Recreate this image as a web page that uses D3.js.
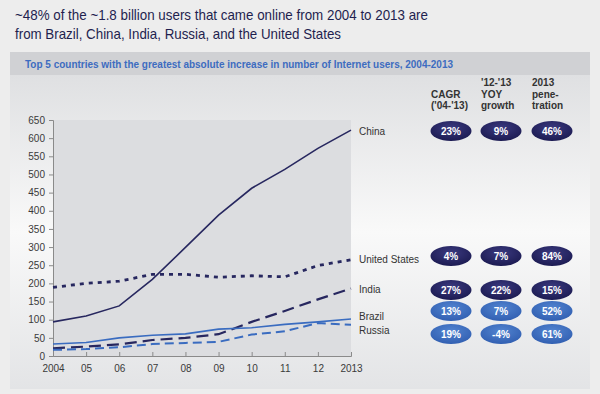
<!DOCTYPE html>
<html>
<head>
<meta charset="utf-8">
<script src="https://cdn.jsdelivr.net/npm/d3@7"></script>
<style>
  body { margin: 0; background: #ededed; }
  svg { display: block; font-family: "Liberation Sans", Arial, sans-serif; }
</style>
</head>
<body>
<svg id="chart"></svg>
<script>
const W = 600, H = 394;

const years = [2004, 2005, 2006, 2007, 2008, 2009, 2010, 2011, 2012, 2013];
const yearLabels = ["2004", "05", "06", "07", "08", "09", "10", "11", "12", "2013"];
const yTicks = d3.range(0, 651, 50);

// users (millions)
const china = [94, 110, 138, 211, 299, 388, 462, 514, 572, 622];
const unitedStates = [189, 200, 206, 225, 225, 217, 221, 218, 249, 265];
const india = [21, 26, 32, 44, 50, 60, 94, 124, 156, 186];
const brazil = [33, 37, 50, 57, 61, 74, 78, 87, 94, 102];
const russia = [17, 19, 24, 33, 36, 39, 59, 68, 91, 86];

const countries = ["China", "United States", "India", "Brazil", "Russia"];
const cagr = ["23%", "4%", "27%", "13%", "19%"];
const yoy = ["9%", "7%", "22%", "7%", "-4%"];
const penetration = ["46%", "84%", "15%", "52%", "61%"];
const columnHeads = [["CAGR", "('04-'13)"], ["'12-'13", "YOY", "growth"], ["2013", "pene-", "tration"]];

const dark = "#27275f", light = "#3a6cc0";
const series = [
  { name: "China", values: china, color: dark, dash: null, width: 1.6, labelY: 131, ovalY: 131 },
  { name: "United States", values: unitedStates, color: dark, dash: "4,5", width: 2.8, labelY: 259, ovalY: 256 },
  { name: "India", values: india, color: dark, dash: "12,6", width: 2.2, labelY: 289, ovalY: 290 },
  { name: "Brazil", values: brazil, color: light, dash: null, width: 1.6, labelY: 316, ovalY: 311 },
  { name: "Russia", values: russia, color: light, dash: "9,5", width: 2, labelY: 330, ovalY: 334 }
];

const svg = d3.select("#chart").attr("width", W).attr("height", H);
const defs = svg.append("defs");

const panelGrad = defs.append("linearGradient").attr("id", "panelGrad")
  .attr("x1", 0).attr("y1", 0).attr("x2", 0).attr("y2", 1);
panelGrad.append("stop").attr("offset", "0%").attr("stop-color", "#dfe0e2");
panelGrad.append("stop").attr("offset", "50%").attr("stop-color", "#f9f9f9");
panelGrad.append("stop").attr("offset", "100%").attr("stop-color", "#e3e4e6");

const darkGrad = defs.append("radialGradient").attr("id", "darkOval")
  .attr("cx", "50%").attr("cy", "35%").attr("r", "60%");
darkGrad.append("stop").attr("offset", "0%").attr("stop-color", "#3b3a80");
darkGrad.append("stop").attr("offset", "100%").attr("stop-color", "#1e1d55");
const lightGrad = defs.append("radialGradient").attr("id", "lightOval")
  .attr("cx", "50%").attr("cy", "35%").attr("r", "60%");
lightGrad.append("stop").attr("offset", "0%").attr("stop-color", "#5284d0");
lightGrad.append("stop").attr("offset", "100%").attr("stop-color", "#3462b4");

// title
const title = svg.append("text").attr("font-size", 14.5).attr("fill", "#1f1f4f");
title.append("tspan").attr("x", 15).attr("y", 20)
  .attr("textLength", 413).attr("lengthAdjust", "spacingAndGlyphs")
  .text("~48% of the ~1.8 billion users that came online from 2004 to 2013 are");
title.append("tspan").attr("x", 15).attr("y", 39)
  .attr("textLength", 326).attr("lengthAdjust", "spacingAndGlyphs")
  .text("from Brazil, China, India, Russia, and the United States");

// panel
svg.append("rect").attr("x", 10).attr("y", 75).attr("width", 580).attr("height", 314)
  .attr("fill", "url(#panelGrad)");
svg.append("rect").attr("x", 10).attr("y", 52).attr("width", 580).attr("height", 23)
  .attr("fill", "#d0d1d4");
svg.append("text").attr("x", 25).attr("y", 68)
  .attr("font-size", 11).attr("font-weight", "bold").attr("fill", "#3d6cc0")
  .attr("textLength", 428).attr("lengthAdjust", "spacingAndGlyphs")
  .text("Top 5 countries with the greatest absolute increase in number of Internet users, 2004-2013");

// plot
const x = d3.scaleLinear().domain([2004, 2013]).range([53, 351]);
const y = d3.scaleLinear().domain([0, 650]).range([356, 120]);

svg.append("rect").attr("x", x(2004)).attr("y", y(650))
  .attr("width", x(2013) - x(2004)).attr("height", y(0) - y(650))
  .attr("fill", "#dcdde0");

const yAxis = svg.append("g").attr("transform", `translate(${x(2004)},0)`)
  .call(d3.axisLeft(y).tickValues(yTicks).tickSize(4).tickPadding(4));
const xAxis = svg.append("g").attr("transform", `translate(0,${y(0)})`)
  .call(d3.axisBottom(x).tickValues(years).tickSize(-4).tickPadding(9)
    .tickFormat((d, i) => yearLabels[i]));
[yAxis, xAxis].forEach(a => {
  a.select(".domain").attr("stroke", "#8a8a8a");
  a.selectAll(".tick line").attr("stroke", "#8a8a8a");
  a.selectAll("text").attr("fill", "#3a3a3a").attr("font-size", 10)
    .attr("font-family", "Liberation Sans, Arial, sans-serif");
});

const line = d3.line().x((d, i) => x(years[i])).y(d => y(d));

svg.selectAll(".series")
  .data(series)
  .join("path")
  .attr("class", "series")
  .attr("fill", "none")
  .attr("stroke", d => d.color)
  .attr("stroke-width", d => d.width)
  .attr("stroke-dasharray", d => d.dash)
  .attr("d", d => line(d.values));

// labels
svg.selectAll(".clabel")
  .data(series)
  .join("text")
  .attr("class", "clabel")
  .attr("x", 359).attr("y", d => d.labelY + 4)
  .attr("font-size", 10).attr("fill", "#333")
  .text(d => d.name);

// column heads
const colX = [451, 501, 552];
columnHeads.forEach((lines, c) => {
  const t = svg.append("text").attr("font-size", 10).attr("font-weight", "bold").attr("fill", "#333");
  const start = 109 - (lines.length - 1) * 11.5;
  lines.forEach((s, k) => {
    t.append("tspan").attr("x", colX[c] - 20).attr("y", start + k * 11.5).text(s);
  });
});

// ovals
const tableCols = [cagr, yoy, penetration];
series.forEach((s, r) => {
  tableCols.forEach((col, c) => {
    const g = svg.append("g").attr("transform", `translate(${colX[c]},${s.ovalY})`);
    g.append("ellipse").attr("rx", 20.5).attr("ry", 10)
      .attr("fill", s.color === dark ? "url(#darkOval)" : "url(#lightOval)");
    g.append("text").attr("y", 4).attr("text-anchor", "middle")
      .attr("font-size", 10).attr("font-weight", "bold").attr("fill", "#fff")
      .text(col[r]);
  });
});
</script>
</body>
</html>
